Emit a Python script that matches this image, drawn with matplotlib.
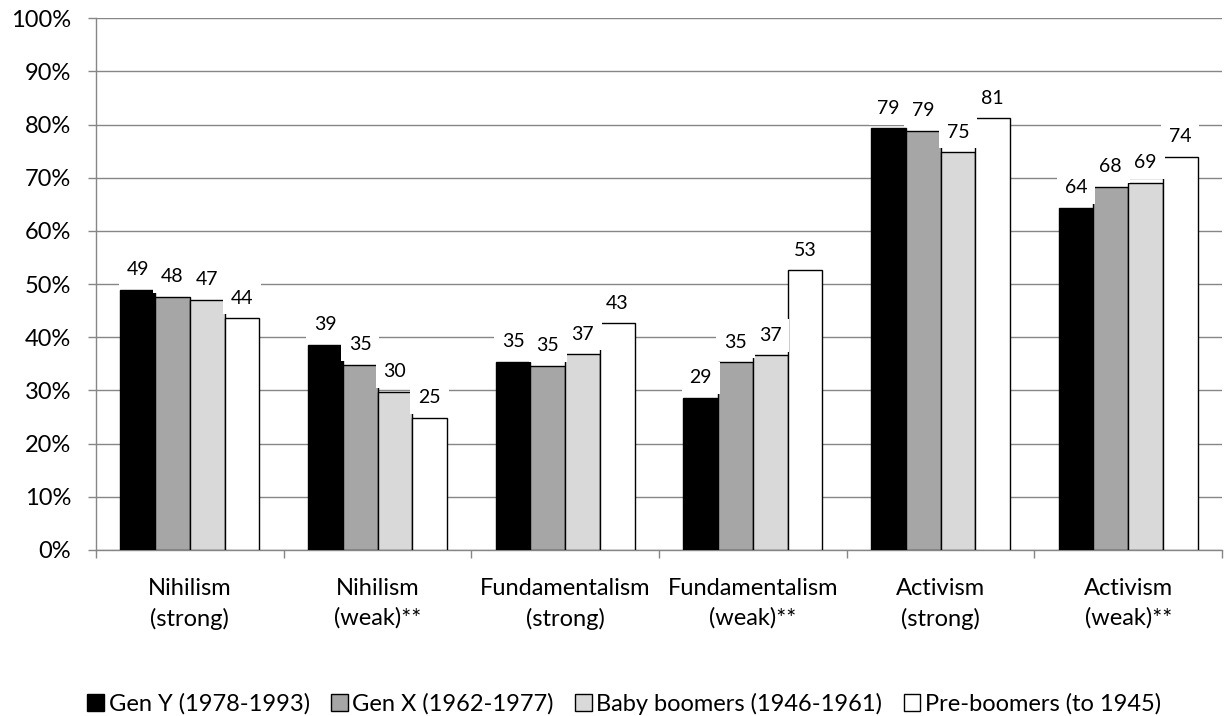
import numpy as np
import matplotlib.pyplot as plt
from matplotlib.ticker import FixedLocator

plt.rcParams['font.family'] = ['Lato', 'DejaVu Sans']

categories = ['Nihilism\n(strong)', 'Nihilism\n(weak)**', 'Fundamentalism\n(strong)',
              'Fundamentalism\n(weak)**', 'Activism\n(strong)', 'Activism\n(weak)**']
series_names = ['Gen Y (1978-1993)', 'Gen X (1962-1977)',
                'Baby boomers (1946-1961)', 'Pre-boomers (to 1945)']
gen_y = [48.9, 38.6, 35.4, 28.6, 79.3, 64.4]
gen_x = [47.6, 34.8, 34.6, 35.3, 78.8, 68.3]
boomers = [47.0, 29.7, 36.8, 36.6, 74.8, 69.1]
pre_boomers = [43.6, 24.8, 42.6, 52.6, 81.2, 74.0]
colors = ['#000000', '#a6a6a6', '#d9d9d9', '#ffffff']

GRID = '#868686'
W = 0.185

fig = plt.figure(figsize=(12.24, 7.16), dpi=100)
ax = fig.add_axes([96 / 1224, 1 - 550 / 716, (1222 - 96) / 1224, (550 - 18.3) / 716])

x = np.arange(len(categories))
all_series = [gen_y, gen_x, boomers, pre_boomers]
for i, (vals, c, name) in enumerate(zip(all_series, colors, series_names)):
    pos = x + (i - 1.5) * W
    bars = ax.bar(pos, vals, width=W, color=c, edgecolor='#000000', linewidth=1.0,
                  label=name, zorder=3)
    for b, v in zip(bars, vals):
        ax.annotate(f'{v:.0f}', (b.get_x() + W / 2, v), xytext=(0, 14.5),
                    textcoords='offset points', ha='center', va='center', fontsize=14,
                    bbox=dict(boxstyle='square,pad=0.4', fc='white', ec='none'), zorder=4)

ax.set_xlim(-0.5, len(categories) - 0.5)
ax.set_ylim(0, 100)
ax.set_yticks(np.arange(0, 101, 10))
ax.set_yticklabels([f'{v}%' for v in range(0, 101, 10)], fontsize=17)
ax.yaxis.grid(True, color=GRID, linewidth=1.0, zorder=0)
ax.set_axisbelow(True)

ax.set_xticks(x)
ax.set_xticklabels(categories, fontsize=17, linespacing=1.5)
ax.xaxis.set_minor_locator(FixedLocator(np.arange(-0.5, len(categories), 1.0)))
ax.tick_params(axis='x', which='major', length=0, pad=20)
ax.tick_params(axis='x', which='minor', length=6, color=GRID, width=1)
ax.tick_params(axis='y', length=6, color=GRID, width=1, pad=12)

for s in ['top', 'right']:
    ax.spines[s].set_visible(False)
for s in ['left', 'bottom']:
    ax.spines[s].set_color(GRID)
    ax.spines[s].set_linewidth(1.0)

fig.legend(loc='center', bbox_to_anchor=(0.51, 0.017), ncol=4, frameon=False,
           fontsize=17, handlelength=0.7, handleheight=0.7, handletextpad=0.2,
           columnspacing=0.9)

fig.savefig('out.png', dpi=100)
